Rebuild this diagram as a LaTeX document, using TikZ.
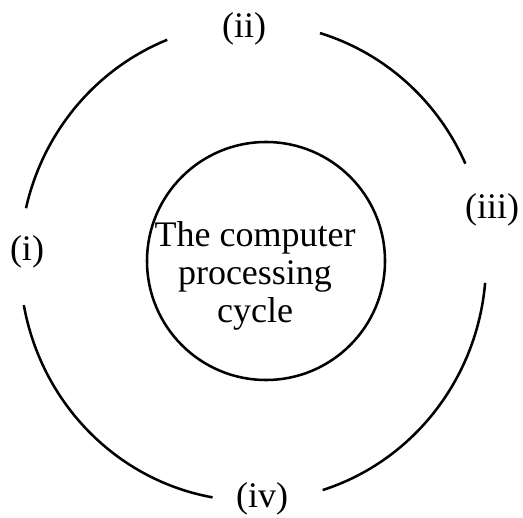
\documentclass[tikz,border=0pt]{standalone}
\usepackage{fontspec}
\setmainfont{Liberation Serif}
\begin{document}
\begin{tikzpicture}[x=0.75pt,y=0.75pt,
  ring/.style={line width=1.9pt,black},
  lbl/.style={font=\fontsize{27}{28.5}\selectfont,inner sep=0pt}]
\useasboundingbox (0,0) rectangle (523,517);
\coordinate (c) at (253,255);
% outer ring, four arcs
\draw[ring] (c) ++(73.3:233 and 239) arc[start angle=73.3,end angle=24.3,x radius=233,y radius=239];
\draw[ring] (c) ++(-5:233 and 239) arc[start angle=-5,end angle=-72.6,x radius=233,y radius=239];
\draw[ring] (c) ++(-100:233 and 239) arc[start angle=-100,end angle=-169.6,x radius=233,y radius=239];
\draw[ring] (c) ++(167:233 and 239) arc[start angle=167,end angle=111.6,x radius=233,y radius=239];
% inner circle
\node[draw,ring,circle,minimum size=238*0.75pt,inner sep=0pt] (inner) at (266,256) {};
\node[lbl,align=center] (txt) at (255,241) {The computer\\processing\\cycle};
% labels
\node[lbl] (ii) at (244,488) {(ii)};
\node[lbl] (iii) at (492,307) {(iii)};
\node[lbl] (i) at (27,265) {(i)};
\node[lbl] (iv) at (262,18) {(iv)};
\end{tikzpicture}
\end{document}
